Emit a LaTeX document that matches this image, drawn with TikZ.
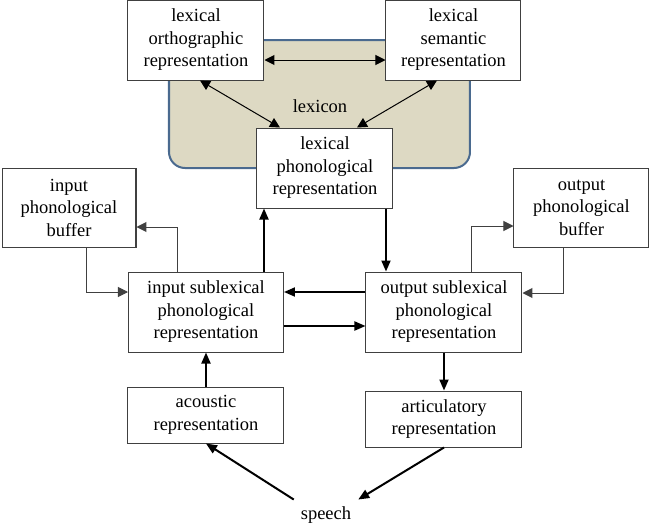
\documentclass[tikz,border=0pt]{standalone}
\usepackage{fontspec}
\setmainfont{Liberation Serif}
\usetikzlibrary{arrows.meta}
\definecolor{lexfill}{HTML}{DDD9C3}
\definecolor{lexline}{HTML}{4A6A8F}
\definecolor{boxline}{HTML}{404040}

\begin{document}
\begin{tikzpicture}[x=0.5pt, y=-0.5pt,
    every node/.style={font=\rmfamily\fontsize{9.25}{11.25}\selectfont, align=center},
    box/.style={draw=boxline, line width=0.5pt, fill=white, inner sep=0pt},
    link/.style={line width=0.5pt, -{Triangle[length=5pt, width=5pt]}},
    twoway/.style={line width=0.5pt, {Triangle[length=5pt, width=5pt]}-{Triangle[length=5pt, width=5pt]}},
    flow/.style={line width=1pt, -{Triangle[length=5.5pt, width=4.5pt]}}]
    \useasboundingbox (0,0) rectangle (650,525);
    \draw[lexline, fill=lexfill, line width=1pt, rounded corners=8pt] (169,40) rectangle (470,168);
    \node (lexlabel) at (320,106) {lexicon};
    \node[box, minimum width=68pt, minimum height=40pt] (orth) at (196,40) {lexical\\orthographic\\representation};
    \node[box, minimum width=67.5pt, minimum height=40pt] (sem) at (453.5,40) {lexical\\semantic\\representation};
    \node[box, minimum width=68pt, minimum height=40pt] (lexphon) at (325,168) {lexical\\phonological\\representation};
    \node[box, minimum width=67pt, minimum height=39.5pt] (inbuf) at (69,207.5) {input\\phonological\\buffer};
    \node[box, minimum width=67.5pt, minimum height=39.5pt] (outbuf) at (581.5,207.5) {output\\phonological\\buffer};
    \node[box, minimum width=77.5pt, minimum height=40pt] (insub) at (206,312) {input sublexical\\phonological\\representation};
    \node[box, minimum width=78pt, minimum height=40pt] (outsub) at (444,312) {output sublexical\\phonological\\representation};
    \node[box, minimum width=78pt, minimum height=28pt] (acoustic) at (206,415) {acoustic\\representation};
    \node[box, minimum width=78pt, minimum height=28pt] (artic) at (444,419) {articulatory\\representation};
    \node (speech) at (326,515) {speech};

    \draw[twoway] ([yshift=-10pt]orth.east) -- ([yshift=-10pt]sem.west);
    \draw[twoway] ([xshift=2pt]orth.south) -- ([xshift=-22.5pt]lexphon.north);
    \draw[twoway] ([xshift=-8.25pt]sem.south) -- ([xshift=16pt]lexphon.north);
    \draw[link, boxline] ([xshift=-14pt]insub.north) |- ([yshift=-9.75pt]inbuf.east);
    \draw[link, boxline] ([xshift=9pt]inbuf.south) |- ([yshift=10pt]insub.west);
    \draw[link, boxline] ([xshift=14pt]outsub.north) |- ([yshift=-9.25pt]outbuf.west);
    \draw[link, boxline] ([xshift=-8.75pt]outbuf.south) |- ([yshift=9.5pt]outsub.east);
    \draw[flow] ([xshift=29pt]insub.north) -- ([xshift=29pt]insub.north |- lexphon.south);
    \draw[flow] ([xshift=30.5pt]lexphon.south) -- ([xshift=30.5pt]lexphon.south |- outsub.north);
    \draw[flow] ([yshift=10pt]outsub.west) -- ([yshift=10pt]insub.east);
    \draw[flow] ([yshift=-7pt]insub.east) -- ([yshift=-7pt]outsub.west);
    \draw[flow] (acoustic.north) -- (insub.south);
    \draw[flow] (outsub.south) -- (artic.north);
    \draw[flow] (speech.north west) -- (acoustic.south);
    \draw[flow] (artic.south) -- (speech.north east);
\end{tikzpicture}
\end{document}
